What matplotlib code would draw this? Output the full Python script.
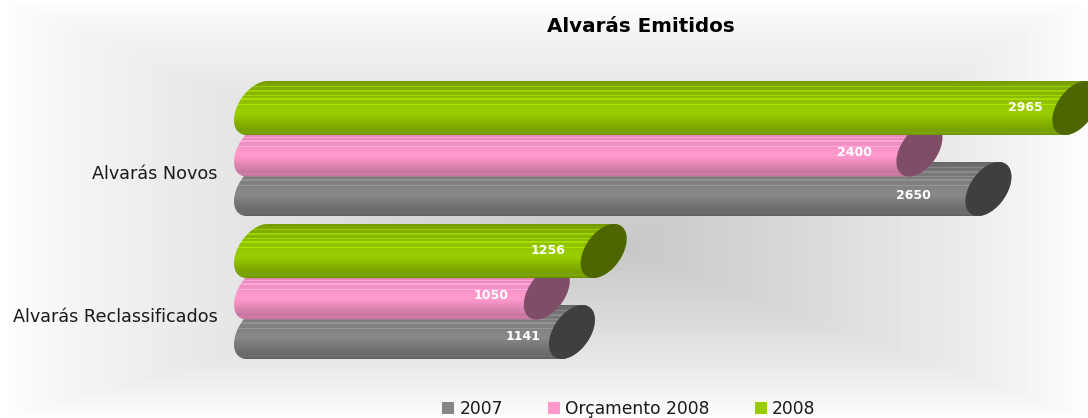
import numpy as np
import matplotlib
matplotlib.use("Agg")
import matplotlib.pyplot as plt
from matplotlib.colors import to_rgb
from matplotlib.patches import Patch, PathPatch
from matplotlib.path import Path

categories = ["Alvarás Reclassificados", "Alvarás Novos"]
series_names = ["2007", "Orçamento 2008", "2008"]
values_2007 = [1141, 2650]
values_orc = [1050, 2400]
values_2008 = [1256, 2965]

# distancia do rotulo ate a tampa (px) e deslocamento vertical (px)
label_gap_2007 = [8, 35]
label_gap_orc = [15, 24]
label_gap_2008 = [15, 10]
label_dy_2007 = [4, 6]
label_dy_orc = [3, 3]
label_dy_2008 = [-1, -1]

W, H = 1088, 418
fig = plt.figure(figsize=(W / 100, H / 100), dpi=100)

# fundo com gradiente
bg = fig.add_axes([0, 0, 1, 1], zorder=0)
bg.axis("off")
xx = np.arange(W) + 0.5
yy = np.arange(H) + 0.5
fx = np.where(xx < 620, xx / 620, (W - xx) / (W - 620)) ** 0.8
fy = np.where(yy < 250, yy / 250, (H - yy) / (H - 250)) ** 0.8
shade = 1 - 0.22 * np.minimum(fy[:, None], fx[None, :])
bg.imshow(shade, cmap="gray", vmin=0, vmax=1, aspect="auto", extent=(0, W, H, 0))
bg.set_xlim(0, W)
bg.set_ylim(H, 0)

# eixo principal: 0 em x=234 px, 0.276 px por unidade
px_per_unit_x = 0.276
px_per_cat = 143.0
ax = fig.add_axes([234 / W, 0, (W - 234) / W, 1], zorder=1)
ax.patch.set_alpha(0)
y0_px = 315.0
for s in ax.spines.values():
    s.set_visible(False)
ax.set_xticks([])
ax.set_yticks([0, 1], categories, fontsize=12.7, color="#1a1a1a")
ax.tick_params(axis="y", length=0, pad=12)

cap_w = 46 / px_per_unit_x
cap_h = 54 / px_per_cat
tilt = 0.45
delta = np.arccos(tilt)


def cylinder_path(v, yc):
    t1 = np.linspace(delta, delta + np.pi, 40)
    t2 = np.linspace(delta + np.pi, delta + 2 * np.pi, 40)
    xl = cap_w / 2 + cap_w / 2 * np.cos(t1)
    yl = yc + cap_h / 2 * np.cos(t1 - delta)
    xr = v + cap_w / 2 + cap_w / 2 * np.cos(t2)
    yr = yc + cap_h / 2 * np.cos(t2 - delta)
    return Path(np.column_stack([np.r_[xl, xr], np.r_[yl, yr]]))


def cap_path(v, yc):
    t = np.linspace(0, 2 * np.pi, 80)
    return Path(np.column_stack([v + cap_w / 2 + cap_w / 2 * np.cos(t),
                                 yc + cap_h / 2 * np.cos(t - delta)]))


def body_image(base):
    # uma linha por pixel de altura, com as listras claras
    c = np.array(to_rgb(base))
    n = 54
    f = np.interp(np.arange(n) / (n - 1),
                  [0, .04, .1, .3, .55, .62, .8, .92, .96, 1],
                  [.76, .8, .84, .92, 1.0, 1.0, .86, .78, .82, .72])
    for row in [5, 9, 10, 14, 17, 18, 23]:
        f[row] += .16
    return np.clip(c[None, None, :] * f[:, None, None], 0, 1)


offsets = [-17.0 / px_per_cat, 22.5 / px_per_cat, 64.0 / px_per_cat]
colors = ["#878787", "#ff99cc", "#99cc00"]
cap_colors = ["#3f3f3f", "#804d66", "#4d6600"]
all_values = [values_2007, values_orc, values_2008]
all_gaps = [label_gap_2007, label_gap_orc, label_gap_2008]
all_dy = [label_dy_2007, label_dy_orc, label_dy_2008]

z = 2
for i in range(len(categories)):
    for vals, gaps, dys, off, col, cap in zip(all_values, all_gaps, all_dy, offsets, colors, cap_colors):
        yc = i + off
        p = PathPatch(cylinder_path(vals[i], yc), fc="none", ec="none")
        ax.add_patch(p)
        im = ax.imshow(body_image(col), aspect="auto", zorder=z, interpolation="nearest",
                       extent=(0, 3200, yc - cap_h / 2, yc + cap_h / 2), origin="upper")
        im.set_clip_path(p)
        ax.add_patch(PathPatch(cap_path(vals[i], yc), fc=cap, ec="none", zorder=z + 0.1))
        ax.text(vals[i] - gaps[i] / px_per_unit_x, yc - dys[i] / px_per_cat, str(vals[i]),
                color="white", fontsize=9, fontweight="bold", ha="right", va="center", zorder=z + 0.2)
        z += 1
ax.set_xlim(0, (W - 234) / px_per_unit_x)
ax.set_ylim((y0_px - H) / px_per_cat, y0_px / px_per_cat)

fig.text(641 / W, 1 - 26 / H, "Alvarás Emitidos", fontsize=14.3, fontweight="bold", ha="center", va="center", color="black")

handles = [Patch(fc=c, ec="none", label=n) for c, n in zip(colors, series_names)]
fig.legend(handles=handles, loc="center", bbox_to_anchor=(629 / W, 1 - 409 / H), ncol=3, frameon=False,
           fontsize=12.3, handlelength=0.7, handleheight=0.7, handletextpad=0.3, columnspacing=2.65,
           borderpad=0, labelcolor="#1a1a1a")

fig.savefig("out.png", dpi=100)
